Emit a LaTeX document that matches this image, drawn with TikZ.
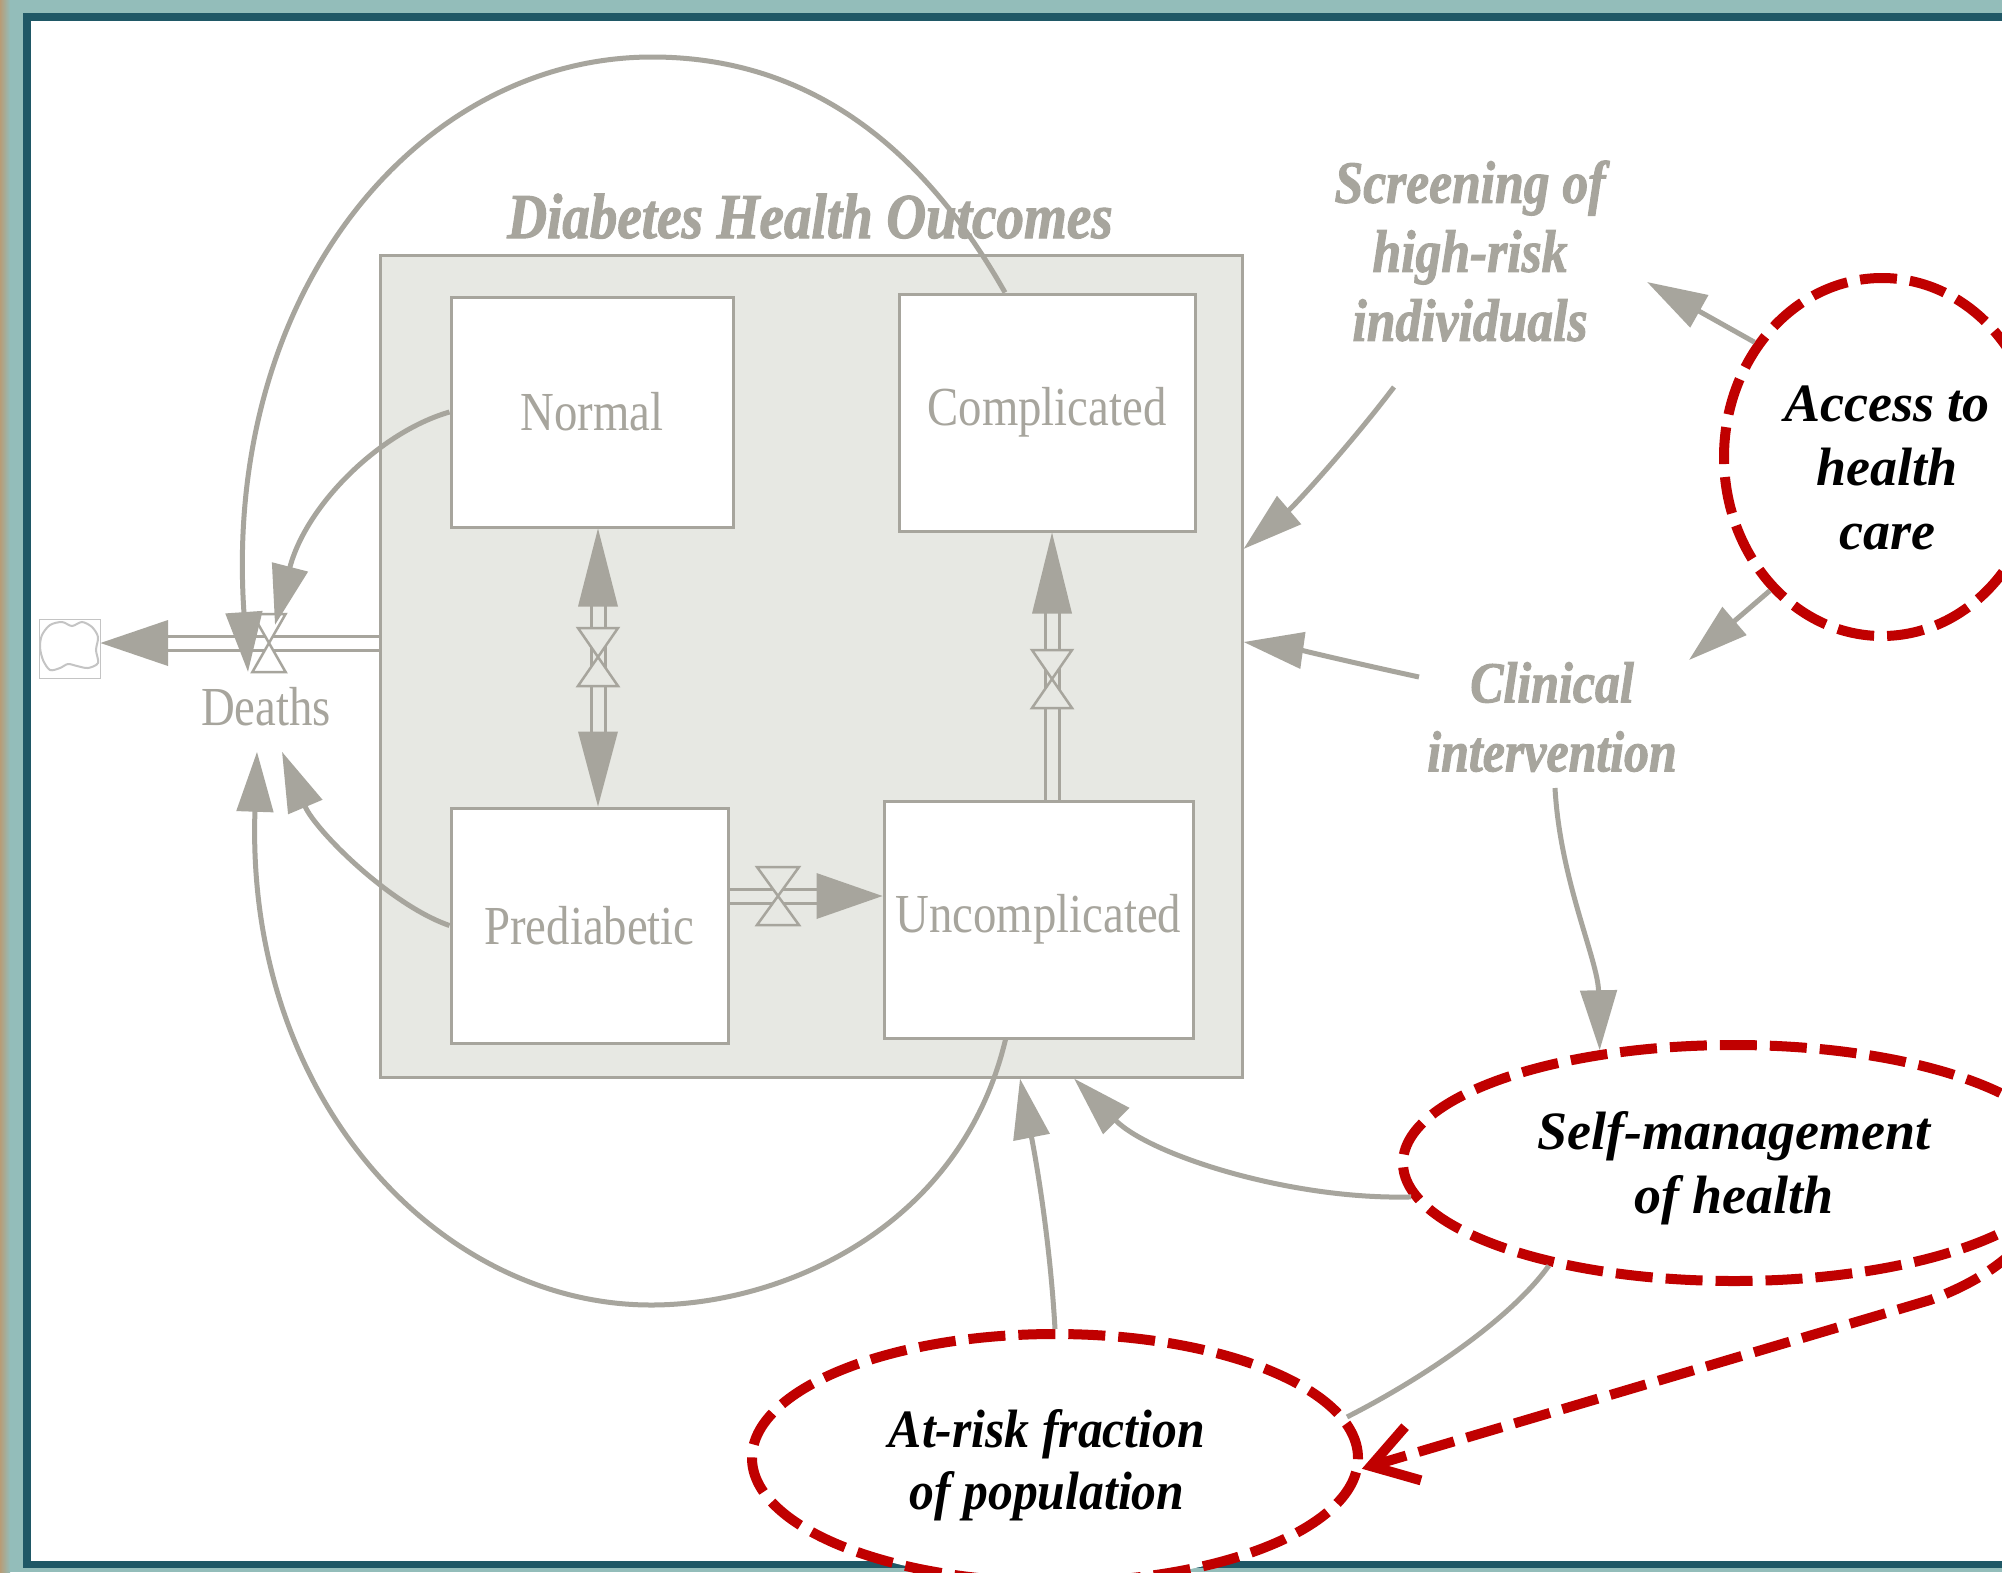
\documentclass[tikz,border=0pt]{standalone}
\usepackage{fontspec}
\setmainfont{Liberation Serif}
\newfontfamily\stockfont[FakeStretch=0.85]{Liberation Serif}
\newfontfamily\rimfont[FakeStretch=0.86,FakeBold=1.6]{Liberation Serif}
\newfontfamily\narrowfont[FakeStretch=0.92]{Liberation Serif}
\usetikzlibrary{arrows.meta,shapes.geometric}

\definecolor{frameteal}{RGB}{147,189,186}
\definecolor{framedark}{RGB}{31,88,102}
\definecolor{frametan}{RGB}{184,156,118}
\definecolor{simgray}{RGB}{167,165,157}
\definecolor{boxfill}{RGB}{231,232,227}
\definecolor{cloudgray}{RGB}{196,196,196}
\definecolor{accentred}{RGB}{192,0,0}

\tikzset{
  stockbox/.style={draw=simgray, line width=3pt, fill=white, inner sep=0pt,
    text=simgray, font=\stockfont\fontsize{55}{64}\selectfont},
  grayhead/.style={text=simgray, align=center, inner sep=0pt,
    font=\rimfont\bfseries\itshape\fontsize{60}{69}\selectfont},
  blacklabel/.style={text=black, align=center, inner sep=0pt,
    font=\bfseries\itshape\fontsize{54}{64}\selectfont},
  influence/.style={draw=simgray, line width=5pt, -{Triangle[length=60pt,width=36pt]}},
  plainlink/.style={draw=simgray, line width=5pt},
  pipe/.style={draw=simgray, line width=3pt, double=#1, double distance=11pt},
  redring/.style={ellipse, draw=accentred, fill=white, line width=10pt,
    dash pattern=on 37pt off 13pt, inner sep=0pt},
  redlink/.style={draw=accentred, line width=10pt, dash pattern=on 37pt off 13pt,
    -{Straight Barb[length=44pt,width=56pt]}},
  valve/.pic={\draw[simgray, line width=2.5pt, fill=#1]
    (-20,-29) -- (20,-29) -- (-20,29) -- (20,29) -- cycle;},
}

\begin{document}
\begin{tikzpicture}[x=1pt,y=-1pt]
\useasboundingbox (0,0) rectangle (2002,1572);
\clip (0,0) rectangle (2002,1572);

% slide frame
\fill[frameteal] (0,0) rectangle (2002,1572);
\shade[left color=frametan, right color=frameteal] (0,0) rectangle (10,1572);
\fill[framedark] (23,13) rectangle (2040,1568);
\fill[white] (31,21) rectangle (2040,1561);

% model sector and stocks
\node[draw=simgray, line width=3pt, fill=boxfill, minimum width=862pt,
  minimum height=822pt, inner sep=0pt] (outcomes) at (811,666) {};
\node[grayhead, font=\rimfont\bfseries\itshape\fontsize{64}{70}\selectfont,
  anchor=base] (title) at (810,238) {Diabetes Health Outcomes};

\node[stockbox, minimum width=282pt, minimum height=230pt] (normal) at (592,412) {Normal};
\node[stockbox, minimum width=296pt, minimum height=237pt] (compl) at (1047,412.5) {Complicated};
\node[stockbox, minimum width=277pt, minimum height=235pt] (prediab) at (589.5,925.5) {Prediabetic};
\node[stockbox, minimum width=309pt, minimum height=237pt] (uncomp) at (1038.5,919.5) {Uncomplicated};

% sink cloud
\node[draw=cloudgray, line width=1pt, minimum width=61pt, minimum height=59pt,
  inner sep=0pt] (sink) at (69.5,648.5) {};
\draw[cloudgray, line width=2pt] plot[smooth cycle] coordinates {
  (42,635) (50,625) (62,622) (72,626) (82,622) (92,627) (98,637) (96,650)
  (98,663) (88,668) (77,666) (68,664) (60,668) (50,670) (43,660) (40,647)};

% death rate
\node[text=simgray, font=\stockfont\fontsize{55}{64}\selectfont, inner sep=0pt,
  anchor=base] (deaths) at (266,725) {Deaths};
\coordinate (dvalve) at (269,643);
\coordinate (dhead) at (168,643);
\draw[pipe=white] (outcomes.west |- dvalve) -- (dhead);
\fill[simgray] (sink.east |- dvalve) -- ([yshift=23pt]dhead) -- ([yshift=-23pt]dhead) -- cycle;

% flows between stocks
\coordinate (npv) at (598,657);
\draw[pipe=boxfill] (598,606) -- (598,734);
\fill[simgray] (normal.south -| npv) -- ++(-20,78) -- ++(40,0) -- cycle;
\fill[simgray] (prediab.north -| npv) -- ++(-20,-75) -- ++(40,0) -- cycle;

\coordinate (ucv) at (1052,679);
\draw[pipe=boxfill] (uncomp.north -| ucv) -- (1052,610);
\fill[simgray] (compl.south -| ucv) -- ++(-20,81) -- ++(40,0) -- cycle;

\coordinate (puv) at (778,896);
\draw[pipe=boxfill] (prediab.east |- puv) -- (819,896);
\fill[simgray] (uncomp.west |- puv) -- ++(-66,-23) -- ++(0,46) -- cycle;

\pic[xscale=0.83] at (dvalve) {valve=white};
\pic at (npv) {valve=boxfill};
\pic at (ucv) {valve=boxfill};
\pic[xscale=1.05] at (puv) {valve=boxfill};

% policy variables
\node[grayhead] (screen) at (1470,251) {Screening of\\high-risk\\individuals};
\node[grayhead, font=\rimfont\bfseries\itshape\fontsize{58}{69}\selectfont]
  (clinical) at (1552,717) {Clinical\\intervention};

\node[redring, minimum width=316pt, minimum height=358pt] (access) at (1882,457) {};
\node[redring, minimum width=662pt, minimum height=236pt] (self) at (1734,1163) {};
\node[redring, minimum width=606pt, minimum height=248pt] (arisk) at (1055,1458) {};

\node[blacklabel] (accesst) at (1887,468) {Access to\\health\\care};
\node[blacklabel] (selft) at (1734,1168) {Self-management\\of health};
\node[blacklabel, font=\narrowfont\bfseries\itshape\fontsize{54}{62}\selectfont]
  (riskt) at (1047,1465) {At-risk fraction\\of population};

% causal links into the death rate
\draw[influence] (normal.west) .. controls (380,432) and (306,505) .. ([shift={(6,-18)}]dvalve);
\draw[influence] ([xshift=-42pt]compl.north) .. controls (930,160) and (820,57) .. (652,57)
  .. controls (420,57) and (222,290) .. ([shift={(-21,29)}]dvalve);
\draw[influence] ([xshift=-33pt]uncomp.south) .. controls (960,1230) and (780,1305) .. (651,1305)
  .. controls (440,1305) and (245,1100) .. ([shift={(-9,26)}]deaths.south);
\draw[influence] (prediab.west) .. controls (390,905) and (315,830) .. ([shift={(16,26)}]deaths.south);

% causal links into the outcome sector
\draw[influence] ([shift={(-76,136)}]screen.center) .. controls (1350,445) and (1295,505)
  .. ([yshift=117pt]outcomes.east);
\draw[influence] ([shift={(-133,-40)}]clinical.center) .. controls (1350,662) and (1300,650)
  .. ([yshift=24pt]outcomes.east);
\draw[influence] (self.186) .. controls (1290,1200) and (1150,1155)
  .. ([xshift=263pt]outcomes.south);
\draw[influence] (arisk.north) .. controls (1050,1240) and (1036,1160)
  .. ([xshift=209pt]outcomes.south);

% links among policy variables
\draw[influence] (access.138) -- ([shift={(177,31)}]screen.center);
\draw[influence] (access.230) -- ([shift={(137,-57)}]clinical.center);
\draw[influence] ([shift={(3,71)}]clinical.center) .. controls (1560,880) and (1598,960) .. (self.140);
\draw[plainlink] (self.209) .. controls (1510,1320) and (1420,1380) .. (arisk.8);
\draw[redlink] (self.-8) .. controls (2025,1250) and (1985,1280) .. (1930,1300) -- (arisk.-2);
\end{tikzpicture}
\end{document}
